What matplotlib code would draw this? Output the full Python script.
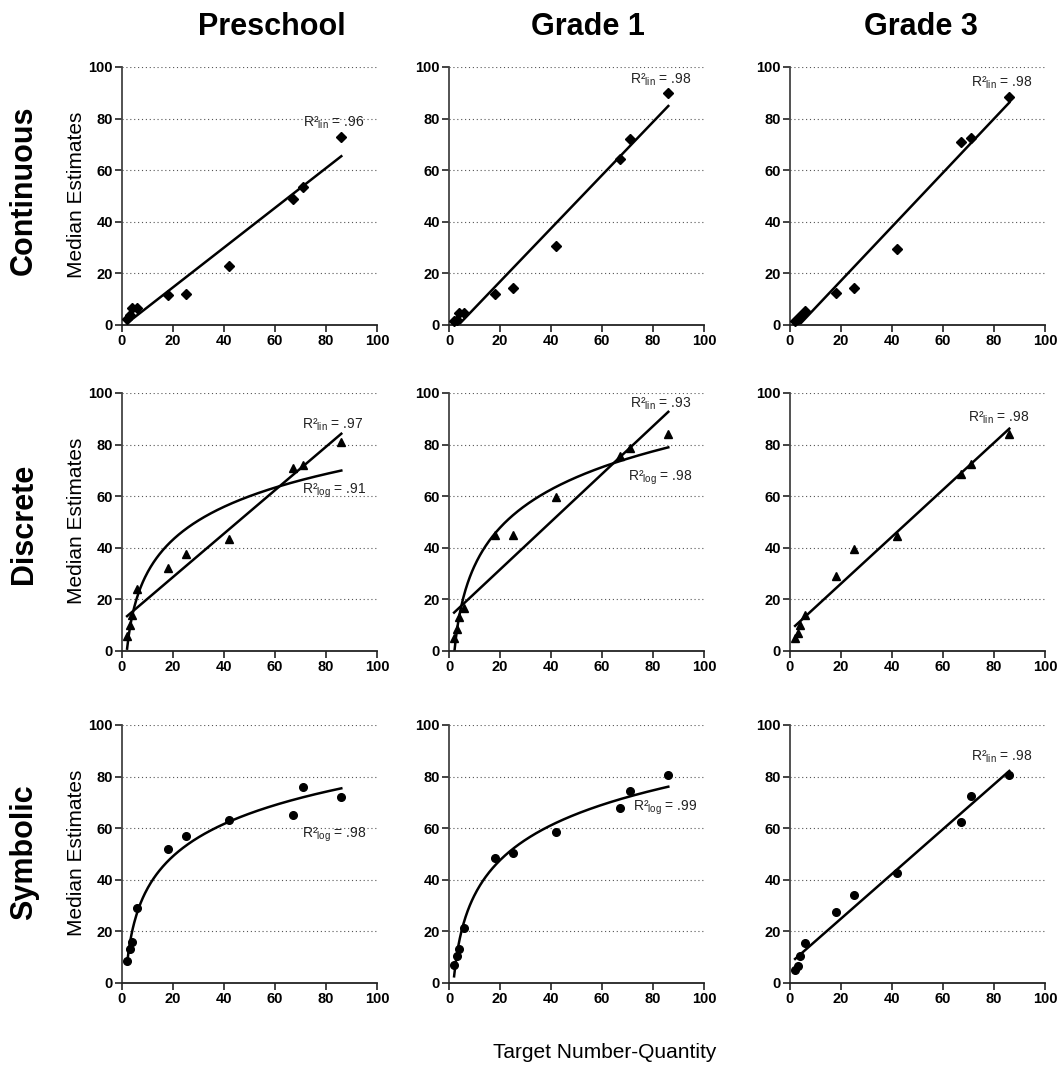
import numpy as np
import matplotlib.pyplot as plt

plt.rcParams['font.family'] = ['Liberation Sans', 'DejaVu Sans']
plt.rcParams['mathtext.fontset'] = 'custom'
plt.rcParams['mathtext.rm'] = 'Liberation Sans'
plt.rcParams['mathtext.it'] = 'Liberation Sans:italic'
plt.rcParams['mathtext.bf'] = 'Liberation Sans:bold'

# target numbers / quantities shown in every panel
targets = np.array([2, 3, 4, 6, 18, 25, 42, 67, 71, 86])

grades = ['Preschool', 'Grade 1', 'Grade 3']
conditions = ['Continuous', 'Discrete', 'Symbolic']

# median estimates
cont_pre = [2.5, 4, 6.5, 6.5, 11.5, 12, 23, 49, 53.5, 73]
cont_g1 = [1.5, 2, 4.5, 4.5, 12, 14.5, 30.5, 64.5, 72, 90]
cont_g3 = [1.5, 2.5, 3.5, 5.5, 12.5, 14.5, 29.5, 71, 72.5, 88.5]

disc_pre = [6, 10, 14, 24, 32, 37.5, 43.5, 71, 72, 81]
disc_g1 = [5, 8.5, 13, 16.5, 45, 45, 59.5, 75.5, 78.5, 84]
disc_g3 = [5, 7, 10, 14, 29, 39.5, 44.5, 68.5, 72.5, 84]

sym_pre = [8.5, 13, 16, 29, 52, 57, 63, 65, 76, 72]
sym_g1 = [7, 10.5, 13, 21.5, 48.5, 50.5, 58.5, 68, 74.5, 80.5]
sym_g3 = [5, 6.5, 10.5, 15.5, 27.5, 34, 42.5, 62.5, 72.5, 80.5]

estimates = [[cont_pre, cont_g1, cont_g3],
             [disc_pre, disc_g1, disc_g3],
             [sym_pre, sym_g1, sym_g3]]

# fitted models and their R^2 per panel
fits = [[{'lin': '.96'}, {'lin': '.98'}, {'lin': '.98'}],
        [{'lin': '.97', 'log': '.91'}, {'lin': '.93', 'log': '.98'}, {'lin': '.98'}],
        [{'log': '.98'}, {'log': '.99'}, {'lin': '.98'}]]

# where the R^2 labels go (data coords)
label_pos = {(0, 0, 'lin'): (71, 78.5), (0, 1, 'lin'): (71, 95), (0, 2, 'lin'): (71, 94),
             (1, 0, 'lin'): (70.5, 87.5), (1, 0, 'log'): (70.5, 62),
             (1, 1, 'lin'): (71, 96), (1, 1, 'log'): (70, 67),
             (1, 2, 'lin'): (70, 90.5),
             (2, 0, 'log'): (70.5, 57.5), (2, 1, 'log'): (72, 68), (2, 2, 'lin'): (71, 87.5)}

markers = ['D', '^', 'o']
msizes = [5, 6, 5.5]

W, H = 1059, 1068
fig = plt.figure(figsize=(W / 100, H / 100), dpi=100)

col_left = [122, 449, 790]
row_top = [67, 393, 725]
ax_w, ax_h = 255, 258

xs = np.linspace(targets.min(), targets.max(), 300)

for r in range(3):
    for c in range(3):
        ax = fig.add_axes([col_left[c] / W, 1 - (row_top[r] + ax_h) / H, ax_w / W, ax_h / H])
        y = np.array(estimates[r][c])
        ax.plot(targets, y, linestyle='none', marker=markers[r], ms=msizes[r],
                color='black', clip_on=False, zorder=3)
        for kind, r2 in fits[r][c].items():
            if kind == 'lin':
                b, a = np.polyfit(targets, y, 1)
                fit_y = a + b * xs
                lab = r'R²$_{\rm lin}$ = ' + r2
            else:
                b, a = np.polyfit(np.log(targets), y, 1)
                fit_y = a + b * np.log(xs)
                lab = r'R²$_{\rm log}$ = ' + r2
            ax.plot(xs, fit_y, color='black', lw=1.8, zorder=2)
            tx, ty = label_pos[(r, c, kind)]
            ax.text(tx, ty, lab, fontsize=10, ha='left', va='center', color='#222222')

        ax.set_xlim(0, 100)
        ax.set_ylim(0, 100)
        ax.set_xticks(range(0, 101, 20))
        ax.set_yticks(range(0, 101, 20))
        for gy in range(20, 101, 20):
            ax.axhline(gy, color='#555555', lw=0.8, ls=(0, (1, 2.5)), zorder=1)
        for s in ['top', 'right']:
            ax.spines[s].set_visible(False)
        ax.spines['left'].set_color('#444444')
        ax.spines['bottom'].set_color('#222222')
        ax.spines['left'].set_linewidth(1.3)
        ax.spines['bottom'].set_linewidth(1.3)
        ax.tick_params(direction='out', length=5, width=1.2, pad=1.5,
                       labelsize=10.5, colors='#222222')
        for t in ax.get_xticklabels() + ax.get_yticklabels():
            t.set_fontweight('bold')
            t.set_color('black')

# column and row headings
title_x = [272, 588, 921]
for c, g in enumerate(grades):
    fig.text(title_x[c] / W, 1 - 27 / H, g, fontsize=22, fontweight='bold',
             ha='center', va='center')

row_y = [190, 524, 852]
for r, cond in enumerate(conditions):
    fig.text(24 / W, 1 - row_y[r] / H, cond, fontsize=22, fontweight='bold',
             rotation=90, ha='center', va='center')
    fig.text(76 / W, 1 - (row_top[r] + 128) / H, 'Median Estimates', fontsize=15,
             rotation=90, ha='center', va='center')

fig.text(605 / W, 1 - 1053 / H, 'Target Number-Quantity', fontsize=15,
         ha='center', va='center')

fig.savefig('out.png', dpi=100)
